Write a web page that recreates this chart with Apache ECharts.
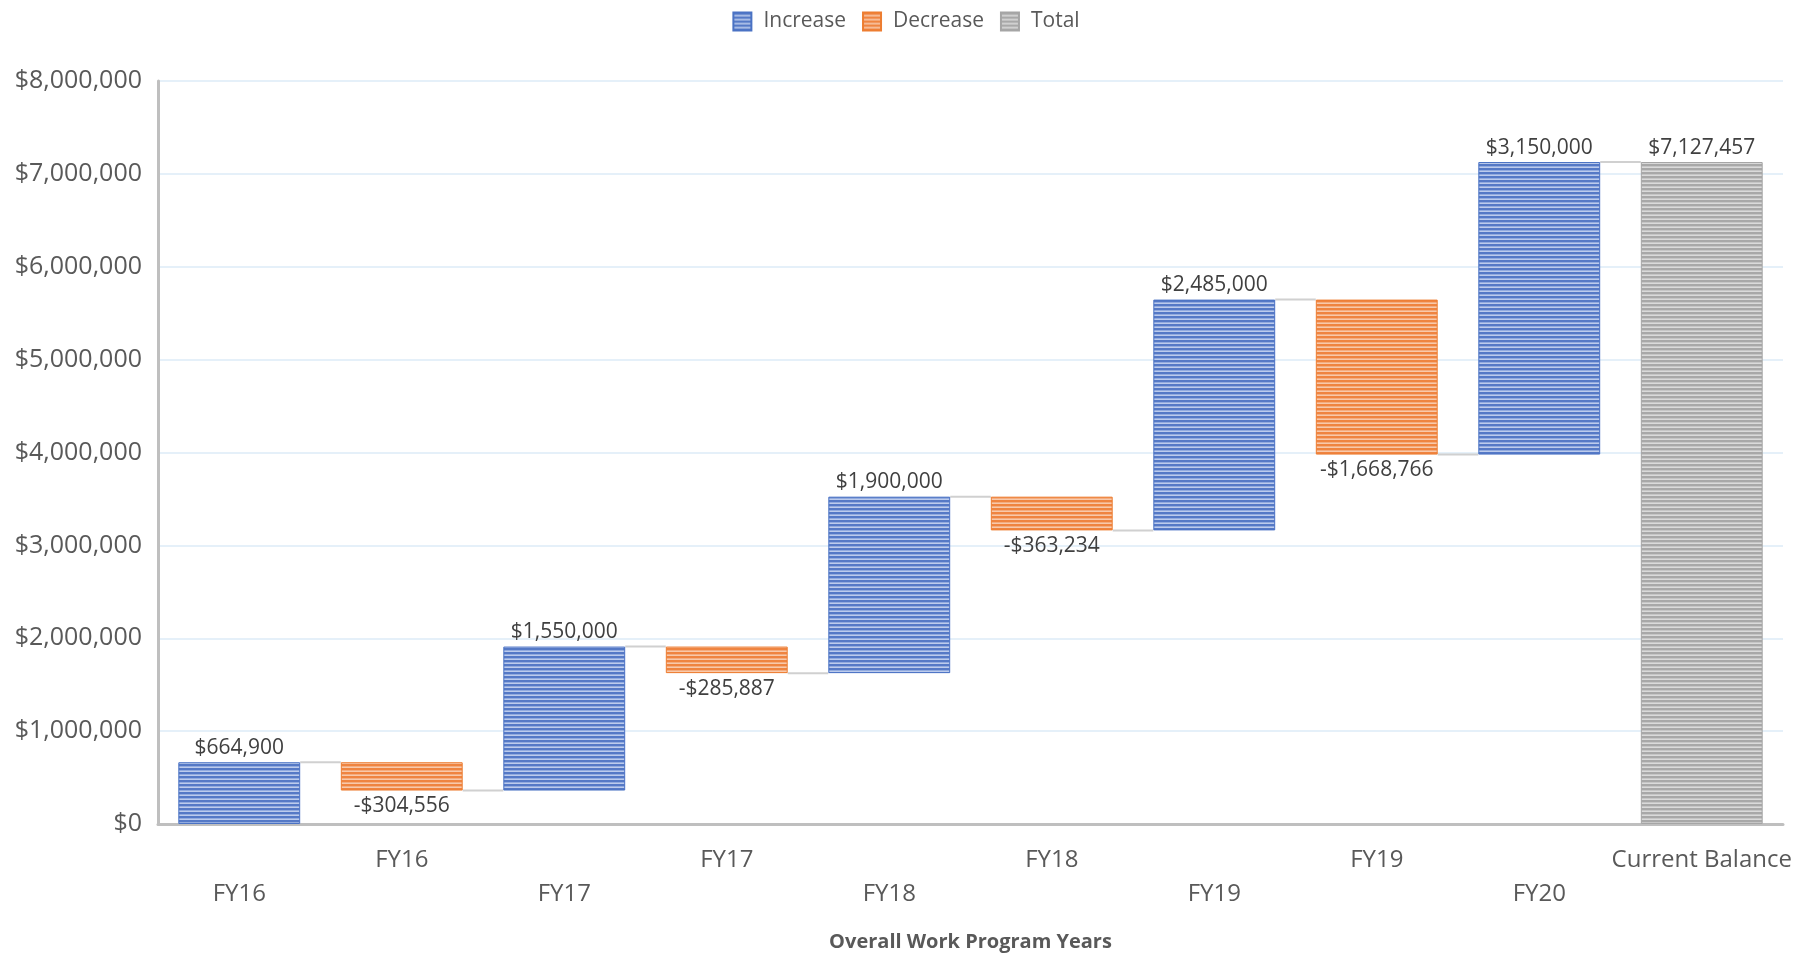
<!DOCTYPE html>
<html>
<head>
<meta charset="utf-8">
<script src="https://cdn.jsdelivr.net/npm/echarts@6/dist/echarts.min.js"></script>
<style>html,body{margin:0;padding:0;background:#fff;}#c{width:1812px;height:953px;}</style>
</head>
<body>
<div id="c"></div>
<script>
const categories = ['FY16','FY16','FY17','FY17','FY18','FY18','FY19','FY19','FY20','Current Balance'];
const increase = [664900, '-', 1550000, '-', 1900000, '-', 2485000, '-', 3150000, '-'];
const decrease = ['-', 304556, '-', 285887, '-', 363234, '-', 1668766, '-', '-'];
const total = ['-', '-', '-', '-', '-', '-', '-', '-', '-', 7127457];
const yTicks = { min: 0, max: 8000000, interval: 1000000 };

// running totals computed from the values above
const base = [], levels = [];
let run = 0;
for (let i = 0; i < categories.length; i++) {
  if (increase[i] !== '-') { base.push(run); run += increase[i]; }
  else if (decrease[i] !== '-') { run -= decrease[i]; base.push(run); }
  else { base.push(0); }
  levels.push(run);
}
const connectors = [];
for (let i = 0; i < categories.length - 1; i++) connectors.push([i, levels[i]]);

function stripes(dark, mid, light) {
  const c = document.createElement('canvas');
  c.width = 4; c.height = 4;
  const g = c.getContext('2d');
  g.fillStyle = dark; g.fillRect(0, 0, 4, 2);
  g.fillStyle = mid; g.fillRect(0, 2, 4, 1);
  g.fillStyle = light; g.fillRect(0, 3, 4, 1);
  return { image: c, repeat: 'repeat' };
}
const blue = stripes('#5579c6', '#92abdf', '#bccbec');
const orange = stripes('#ef8440', '#f4ad80', '#f8c9aa');
const grey = stripes('#a8a8a8', '#c6c6c6', '#dadada');

const money = v => '$' + Math.round(v).toLocaleString('en-US');
const FONT = '"Open Sans", sans-serif';

const chart = echarts.init(document.getElementById('c'));
chart.setOption({
  animation: false,
  textStyle: { fontFamily: FONT },
  legend: {
    data: ['Increase', 'Decrease', 'Total'],
    top: 6, left: 'center', icon: 'rect',
    itemWidth: 18, itemHeight: 18, itemGap: 16,
    textStyle: { fontSize: 21, color: '#595959', fontFamily: FONT, padding: [0, 0, 0, 7] }
  },
  grid: { left: 158, right: 29, top: 81, bottom: 129, containLabel: false, outerBoundsMode: 'none' },
  xAxis: {
    type: 'category',
    data: categories,
    name: 'Overall Work Program Years',
    nameLocation: 'middle',
    nameGap: 108,
    nameTextStyle: { fontSize: 20, fontWeight: 'bold', color: '#595959', fontFamily: FONT },
    axisLine: { lineStyle: { color: '#bfbfbf', width: 3 } },
    axisTick: { show: false },
    axisLabel: {
      interval: 0, margin: 19, fontSize: 24, color: '#595959', lineHeight: 34,
      formatter: (v, i) => (i % 2 === 0 ? '\n' + v : v)
    }
  },
  yAxis: {
    type: 'value',
    min: yTicks.min, max: yTicks.max, interval: yTicks.interval,
    axisLine: { show: true, lineStyle: { color: '#bfbfbf', width: 3 } },
    axisTick: { show: false },
    axisLabel: { fontSize: 25, color: '#595959', margin: 16, formatter: money },
    splitLine: { lineStyle: { color: '#dcebf7', width: 1.5 } }
  },
  series: [
    {
      name: 'base', type: 'bar', stack: 'w', data: base, silent: true,
      itemStyle: { color: 'rgba(0,0,0,0)' }, barCategoryGap: '25%'
    },
    {
      name: 'Increase', type: 'bar', stack: 'w', data: increase,
      itemStyle: { color: blue, borderColor: '#4a72c4', borderWidth: 1 },
      label: { show: true, position: 'top', distance: 4, fontSize: 21, color: '#404040', formatter: p => money(p.value) }
    },
    {
      name: 'Decrease', type: 'bar', stack: 'w', data: decrease,
      itemStyle: { color: orange, borderColor: '#ed7d31', borderWidth: 1 },
      label: { show: true, position: 'bottom', distance: 5, fontSize: 21, color: '#404040', formatter: p => '-' + money(p.value) }
    },
    {
      name: 'Total', type: 'bar', stack: 'w', data: total,
      itemStyle: { color: grey, borderColor: '#a5a5a5', borderWidth: 1 },
      label: { show: true, position: 'top', distance: 4, fontSize: 21, color: '#404040', formatter: p => money(p.value) }
    },
    {
      name: 'connector', type: 'custom', data: connectors, silent: true, z: 1,
      renderItem: (params, api) => {
        const i = api.value(0), lv = api.value(1);
        const a = api.coord([i, lv]);
        const b = api.coord([i + 1, lv]);
        const bw = api.size([1, 0])[0] * 0.75;
        return {
          type: 'line',
          shape: { x1: a[0] + bw / 2, y1: a[1], x2: b[0] - bw / 2, y2: b[1] },
          style: { stroke: '#d0d0d0', lineWidth: 2 }
        };
      }
    }
  ]
});
</script>
</body>
</html>
